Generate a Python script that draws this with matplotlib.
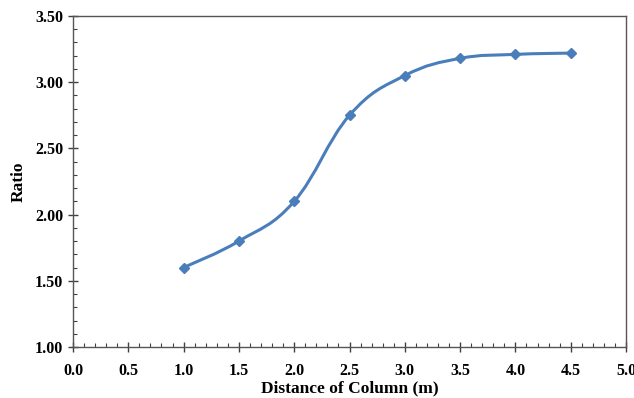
import numpy as np
import matplotlib
matplotlib.use('Agg')
import matplotlib.pyplot as plt
from matplotlib.path import Path
from matplotlib.patches import PathPatch
from matplotlib.ticker import MultipleLocator

distance = [1.0, 1.5, 2.0, 2.5, 3.0, 3.5, 4.0, 4.5]
ratio = [1.60, 1.80, 2.10, 2.75, 3.05, 3.18, 3.21, 3.22]

plt.rcParams['font.family'] = ['Liberation Serif', 'DejaVu Serif']
plt.rcParams['font.weight'] = 'bold'

fig = plt.figure(figsize=(6.34, 3.98), dpi=100)
ax = fig.add_axes([73 / 634, 1 - 347 / 398, (626 - 73) / 634, (347 - 16) / 398])

# Excel-style smoothed line (Catmull-Rom Bezier through the points)
x = np.array(distance)
y = np.array(ratio)
verts = [(x[0], y[0])]
codes = [Path.MOVETO]
t = 0.2
for i in range(len(x) - 1):
    x0, y0 = (x[i - 1], y[i - 1]) if i > 0 else (x[i], y[i])
    x3, y3 = (x[i + 2], y[i + 2]) if i + 2 < len(x) else (x[i + 1], y[i + 1])
    c1 = (x[i] + (x[i + 1] - x0) * t, y[i] + (y[i + 1] - y0) * t)
    c2 = (x[i + 1] - (x3 - x[i]) * t, y[i + 1] - (y3 - y[i]) * t)
    verts += [c1, c2, (x[i + 1], y[i + 1])]
    codes += [Path.CURVE4] * 3
ax.add_patch(PathPatch(Path(verts, codes), fill=False, edgecolor='#4a7ebb', lw=2.2))
ax.plot(distance, ratio, 'D', color='#4a7ebb', markersize=5, linestyle='none')

ax.set_xlim(0, 5)
ax.set_ylim(1, 3.5)
ax.xaxis.set_major_locator(MultipleLocator(0.5))
ax.xaxis.set_minor_locator(MultipleLocator(0.1))
ax.yaxis.set_major_locator(MultipleLocator(0.5))
ax.yaxis.set_minor_locator(MultipleLocator(0.1))
ax.xaxis.set_major_formatter(plt.FormatStrFormatter('%.1f'))
ax.yaxis.set_major_formatter(plt.FormatStrFormatter('%.2f'))
ax.tick_params(which='major', direction='inout', length=7, width=1, labelsize=11.5, color='#404040')
ax.tick_params(which='minor', direction='in', length=3, width=0.8, color='#404040')
ax.tick_params(axis='x', pad=8)
for lab in ax.get_xticklabels() + ax.get_yticklabels():
    lab.set_fontweight('bold')
for s in ax.spines.values():
    s.set_color('#555555')
    s.set_linewidth(1)

ax.set_xlabel('Distance of Column (m)', fontsize=12.5, fontweight='bold', labelpad=1)
ax.set_ylabel('Ratio', fontsize=12.5, fontweight='bold', labelpad=6)

fig.savefig('out.png', dpi=100)
